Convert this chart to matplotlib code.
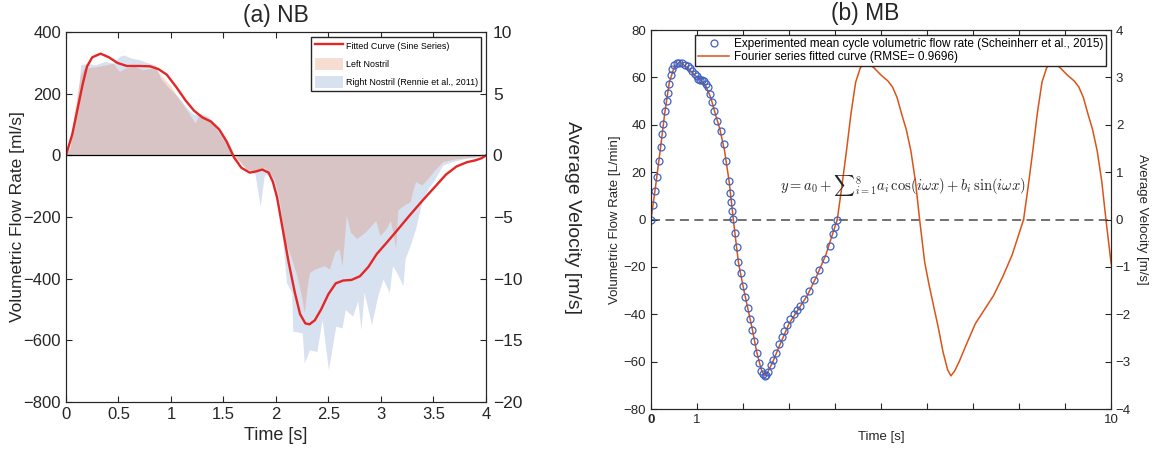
import numpy as np
import matplotlib.pyplot as plt

plt.rcParams['font.family'] = ['Liberation Sans', 'DejaVu Sans']
plt.rcParams['mathtext.fontset'] = 'cm'
txt = '#262626'

# ---- (a) NB data ----
fit_t = [0, 0.06, 0.11, 0.16, 0.20, 0.25, 0.33, 0.41, 0.49, 0.58, 0.70, 0.80, 0.88, 0.96,
         1.05, 1.14, 1.22, 1.30, 1.38, 1.46, 1.53, 1.60, 1.67, 1.75, 1.81, 1.87, 1.93, 1.97,
         2.01, 2.06, 2.12, 2.18, 2.23, 2.28, 2.32, 2.37, 2.43, 2.50, 2.57, 2.64, 2.72, 2.80,
         2.88, 2.96, 3.05, 3.15, 3.27, 3.40, 3.52, 3.62, 3.72, 3.82, 3.90, 3.96, 4.0]
fit_q = [0, 68, 150, 232, 288, 318, 330, 318, 300, 290, 290, 289, 280, 262,
         222, 178, 145, 123, 110, 84, 45, -6, -40, -56, -52, -46, -56, -85,
         -135, -230, -345, -445, -515, -545, -548, -535, -500, -450, -415, -406, -404, -392,
         -362, -320, -285, -245, -196, -145, -100, -62, -36, -22, -16, -9, 0]

left_t = [0, 0.04, 0.07, 0.10, 0.14, 0.17, 0.23, 0.31, 0.39, 0.45, 0.48, 0.51, 0.56, 0.65,
          0.73, 0.79, 0.85, 0.90, 0.99, 1.07, 1.16, 1.23, 1.27, 1.33, 1.38, 1.47, 1.53, 1.58,
          1.65, 1.72, 1.80, 1.89, 1.98, 2.03, 2.09, 2.15, 2.20, 2.24, 2.27, 2.30, 2.32, 2.37,
          2.46, 2.51, 2.56, 2.60, 2.63, 2.65, 2.67, 2.71, 2.77, 2.85, 2.91, 2.95, 2.99, 3.05,
          3.09, 3.12, 3.14, 3.16, 3.22, 3.28, 3.30, 3.33, 3.39, 3.45, 3.50, 3.59, 3.70, 3.80,
          3.90, 4.0]
left_q = [0, 30, 120, 186, 262, 283, 285, 289, 294, 299, 285, 272, 283, 289,
          278, 281, 283, 262, 229, 186, 143, 105, 132, 126, 110, 67, 35, 0,
          -20, -45, -50, -40, -74, -140, -281, -336, -391, -450, -511, -420, -380, -369,
          -358, -369, -314, -303, -358, -280, -194, -249, -270, -249, -227, -211, -260, -238,
          -211, -260, -303, -178, -161, -150, -118, -85, -96, -74, -52, -20, -12, -8,
          -5, 0]

right_t = [0, 0.04, 0.08, 0.12, 0.14, 0.20, 0.28, 0.37, 0.45, 0.51, 0.55, 0.62, 0.70, 0.79,
           0.85, 0.90, 0.99, 1.07, 1.16, 1.22, 1.27, 1.36, 1.42, 1.50, 1.56, 1.60, 1.66, 1.72,
           1.80, 1.85, 1.89, 1.95, 2.01, 2.06, 2.10, 2.15, 2.16, 2.25, 2.27, 2.32, 2.39, 2.44,
           2.50, 2.57, 2.63, 2.66, 2.73, 2.78, 2.81, 2.84, 2.91, 2.97, 3.02, 3.08, 3.11, 3.15,
           3.21, 3.23, 3.27, 3.33, 3.39, 3.45, 3.50, 3.59, 3.68, 3.78, 3.85, 3.92, 4.0]
right_q = [0, 25, 110, 220, 294, 299, 294, 305, 299, 321, 326, 316, 310, 299,
           294, 251, 215, 190, 150, 132, 137, 126, 100, 70, 35, 5, -20, -45,
           -60, -165, -63, -63, -151, -260, -412, -445, -570, -576, -674, -631, -636, -532,
           -696, -554, -560, -500, -521, -472, -565, -445, -549, -456, -401, -445, -358, -380,
           -423, -336, -300, -238, -151, -107, -85, -31, -20, -12, -8, -4, 0]

# ---- (b) MB data ----
exp_t = [0.0, 0.05, 0.09, 0.13, 0.17, 0.21, 0.24, 0.27, 0.30, 0.34, 0.36, 0.39, 0.43, 0.46,
         0.51, 0.56, 0.62, 0.68, 0.74, 0.80, 0.85, 0.90, 0.96, 1.00, 1.03, 1.07, 1.12, 1.16,
         1.20, 1.23, 1.28, 1.32, 1.38, 1.43, 1.52, 1.58, 1.63, 1.70, 1.72, 1.74, 1.77, 1.79,
         1.83, 1.86, 1.90, 1.95, 1.99, 2.04, 2.10, 2.15, 2.19, 2.25, 2.30, 2.35, 2.39, 2.43,
         2.47, 2.51, 2.55, 2.60, 2.65, 2.71, 2.78, 2.84, 2.90, 2.96, 3.03, 3.10, 3.17, 3.24,
         3.32, 3.43, 3.54, 3.65, 3.78, 3.89, 3.96, 4.01, 4.05]
exp_q = [0, 6.3, 12.2, 17.9, 24.9, 30.8, 35.9, 40.4, 45.7, 49.9, 53.3, 57.3, 61.2, 63.6,
         65.1, 66.0, 66.2, 66.0, 65.4, 65.0, 64.0, 62.9, 61.5, 60.4, 59.4, 59.0, 58.8, 58.4,
         57.3, 55.9, 53.1, 49.5, 45.7, 41.8, 37.3, 31.7, 24.9, 16.2, 11.1, 7.3, 3.8, 0.3,
         -5.8, -11.7, -18.0, -22.7, -27.9, -32.5, -37.3, -41.9, -46.6, -51.4, -56.4, -60.7, -64.0, -65.3,
         -65.9, -65.5, -64.2, -61.6, -59.5, -56.4, -52.5, -49.7, -47.1, -44.7, -41.9, -39.8, -38.1, -36.3,
         -33.5, -30.0, -25.7, -21.5, -16.6, -11.0, -6.0, -3.0, 0]

four_t = [0, 0.1, 0.2, 0.3, 0.4, 0.5, 0.62, 0.8, 0.95, 1.1, 1.2, 1.3, 1.4, 1.5, 1.6,
          1.7, 1.79, 1.9, 2.0, 2.1, 2.2, 2.3, 2.4, 2.47, 2.55, 2.65, 2.8, 3.0, 3.2, 3.4,
          3.6, 3.8, 3.95, 4.05]
four_q = [0, 14, 29, 45, 58, 64, 66.5, 64, 61, 58.5, 56, 51.5, 44.5, 38, 29,
          16, 0, -18, -28, -37, -46, -56, -63.5, -66, -64, -60, -53, -44, -38, -32,
          -24, -15, -6, 0]
period = 4.05

fig = plt.figure(figsize=(11.55, 4.55), dpi=100)

# ================= (a) NB =================
ax = fig.add_axes([0.0571, 0.1165, 0.3636, 0.813])
bl = ax.fill_between(right_t, right_q, 0, color=(0.25, 0.41, 0.70), alpha=0.2, lw=0)
pk = ax.fill_between(left_t, left_q, 0, color=(0.85, 0.33, 0.10), alpha=0.2, lw=0)
ax.axhline(0, color='black', lw=0.9, zorder=3)
rd, = ax.plot(fit_t, fit_q, color=(0.89, 0.15, 0.15), lw=1.7, zorder=4)
ax.set_xlim(0, 4)
ax.set_ylim(-800, 400)
ax.set_xticks(np.arange(0, 4.01, 0.5))
ax.set_xticklabels(['0', '0.5', '1', '1.5', '2', '2.5', '3', '3.5', '4'])
ax.set_yticks(range(-800, 401, 200))
ax.set_xlabel('Time [s]', fontsize=13, color=txt)
ax.set_ylabel('Volumetric Flow Rate [ml/s]', fontsize=12.5, color=txt, labelpad=-1)
ax.set_title('(a) NB', fontsize=16.5, color=txt, pad=7)
ax.tick_params(direction='in', top=True, right=False, labelsize=12, colors=txt, length=4)
ax.legend([rd, pk, bl], ['Fitted Curve (Sine Series)', 'Left Nostril',
                         'Right Nostril (Rennie et al., 2011)'],
          loc='upper right', fontsize=6.4, fancybox=False, framealpha=1,
          edgecolor=txt, borderaxespad=0.5, handlelength=3.2, handleheight=1.6,
          borderpad=0.4, labelspacing=0.75, handletextpad=0.3)
ax2 = ax.twinx()
ax2.set_ylim(-20, 10)
ax2.set_yticks(range(-20, 11, 5))
ax2.tick_params(direction='in', labelsize=12.5, colors=txt, length=4, pad=5)
ax2.set_ylabel('Average Velocity [m/s]', fontsize=14, color=txt, rotation=270, labelpad=42)
for a in (ax, ax2):
    for s in a.spines.values():
        s.set_color(txt)

# ================= (b) MB =================
bx = fig.add_axes([0.5636, 0.101, 0.3983, 0.833])
bx.axhline(0, color='0.4', lw=1.3, ls=(0, (5, 3)), zorder=1)
for k in range(3):
    bx.plot(np.array(four_t) + k * period, four_q, color=(0.85, 0.33, 0.10), lw=1.1, zorder=2,
            label='Fourier series fitted curve (RMSE= 0.9696)' if k == 0 else None)
bx.plot(exp_t, exp_q, 'o', mfc='none', mec=(0.25, 0.38, 0.75), ms=5, mew=0.9, zorder=3,
        label='Experimented mean cycle volumetric flow rate (Scheinherr et al., 2015)')
bx.set_xlim(0, 10)
bx.set_ylim(-80, 80)
bx.set_xticks(range(0, 11))
bx.set_xticklabels(['0', '1', '', '', '', '', '', '', '', '', '10'])
bx.get_xticklabels()[0].set_fontweight('bold')
bx.set_yticks(range(-80, 81, 20))
bx.set_xlabel('Time [s]', fontsize=9.5, color=txt)
bx.set_ylabel('Volumetric Flow Rate [L/min]', fontsize=9.5, color=txt, labelpad=2)
bx.set_title('(b) MB', fontsize=16.5, color=txt, pad=7, x=0.465)
bx.tick_params(direction='in', top=True, right=False, labelsize=9.5, colors=txt, length=4)
bx.text(2.8, 14.5, r'$y = a_0 + {\sum}_{i=1}^{8} a_i\,\cos(i\omega x) + b_i\,\sin(i\omega x)$',
        fontsize=10.5, color=txt, va='center')
h, l = bx.get_legend_handles_labels()
bx.legend(h[::-1], l[::-1], loc='upper right', fontsize=8.5, fancybox=False, framealpha=1,
          edgecolor=txt, borderaxespad=0.4, borderpad=0.25, labelspacing=0.15,
          handlelength=2.6, handletextpad=0.4)
bx2 = bx.twinx()
bx2.set_ylim(-4, 4)
bx2.set_yticks(range(-4, 5))
bx2.tick_params(direction='in', labelsize=9.5, colors=txt, length=4)
bx2.set_ylabel('Average Velocity [m/s]', fontsize=9.5, color=txt, rotation=270, labelpad=12)
for a in (bx, bx2):
    for s in a.spines.values():
        s.set_color(txt)

fig.savefig('out.png', dpi=100)
